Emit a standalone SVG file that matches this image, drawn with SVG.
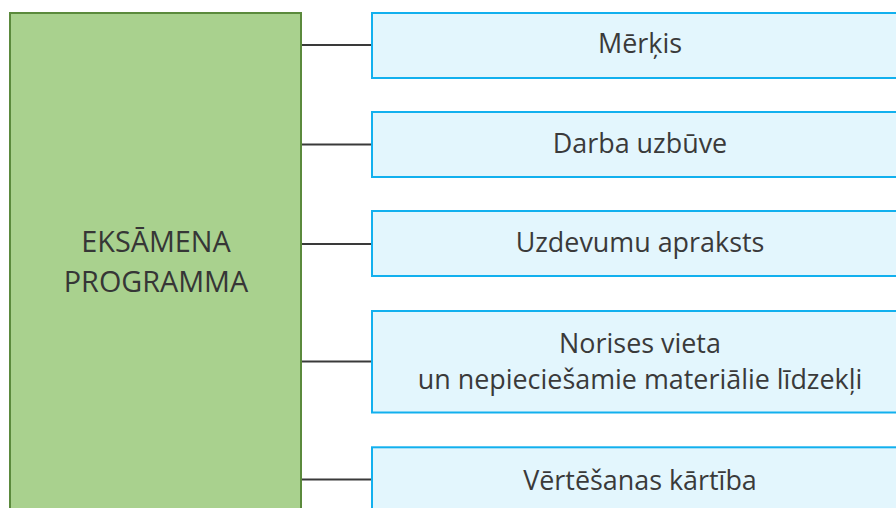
<svg xmlns="http://www.w3.org/2000/svg" width="896" height="508" viewBox="0 0 896 508">
<style>
.main{fill:#a9d18e;stroke:#5b8a3c;stroke-width:2}
.box{fill:#e3f6fd;stroke:#12b0ee;stroke-width:2}
.t{font-family:"Open Sans","Noto Sans",sans-serif;font-size:26.9px;fill:#3a3a3a;text-anchor:middle}
.tm{font-family:"Open Sans","Noto Sans",sans-serif;font-size:28.8px;fill:#363636;text-anchor:middle}
.c{stroke:#3a3a3a;stroke-width:2;fill:none}
</style>
<rect width="896" height="508" fill="#ffffff"/>
<g id="connectors">
<line class="c" x1="301" y1="45" x2="372" y2="45"/>
<line class="c" x1="301" y1="144.5" x2="372" y2="144.5"/>
<line class="c" x1="301" y1="244" x2="372" y2="244"/>
<line class="c" x1="301" y1="361.5" x2="372" y2="361.5"/>
<line class="c" x1="301" y1="479.5" x2="372" y2="479.5"/>
</g>
<g id="main">
<rect class="main" x="10" y="13" width="291" height="496"/>
<text class="tm" x="156" y="252">EKSĀMENA</text>
<text class="tm" x="156" y="291.7">PROGRAMMA</text>
</g>
<g id="n1">
<rect class="box" x="372" y="13" width="536" height="65"/>
<text class="t" x="640" y="53">Mērķis</text>
</g>
<g id="n2">
<rect class="box" x="372" y="112" width="536" height="65"/>
<text class="t" x="640" y="152.5">Darba uzbūve</text>
</g>
<g id="n3">
<rect class="box" x="372" y="211" width="536" height="65"/>
<text class="t" x="640" y="251.5">Uzdevumu apraksts</text>
</g>
<g id="n4">
<rect class="box" x="372" y="311" width="536" height="101.5"/>
<text class="t" x="640" y="353">Norises vieta</text>
<text class="t" x="640" y="389.3">un nepieciešamie materiālie līdzekļi</text>
</g>
<g id="n5">
<rect class="box" x="372" y="447.3" width="536" height="70"/>
<text class="t" x="640" y="490">Vērtēšanas kārtība</text>
</g>
</svg>
